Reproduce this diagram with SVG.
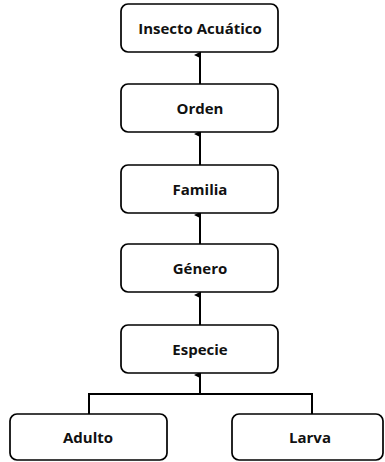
<svg xmlns="http://www.w3.org/2000/svg" width="385" height="462" viewBox="0 0 385 462">
<defs>
<marker id="ah" markerWidth="7" markerHeight="7" refX="3.5" refY="6" orient="auto-start-reverse" markerUnits="userSpaceOnUse" viewBox="0 0 7 7">
<path d="M0,7 L3.5,0 L7,7 Z" fill="#000"/>
</marker>
<style>
.b{fill:#fff;stroke:#000;stroke-width:1.7}
.t{font-family:"Open Sans","Liberation Sans",sans-serif;font-weight:bold;font-size:15px;text-anchor:middle;fill:#111}
.c{fill:none;stroke:#000;stroke-width:2}
</style>
</defs>
<rect width="385" height="462" fill="#fff"/>
<g id="connectors">
<line class="c" x1="200" y1="84" x2="200" y2="55" marker-end="url(#ah)"/>
<line class="c" x1="200" y1="165" x2="200" y2="134" marker-end="url(#ah)"/>
<line class="c" x1="200" y1="244" x2="200" y2="215" marker-end="url(#ah)"/>
<line class="c" x1="200" y1="325" x2="200" y2="295" marker-end="url(#ah)"/>
<polyline class="c" points="89,414 89,394 312,394 312,414"/>
<line class="c" x1="200" y1="394" x2="200" y2="375" marker-end="url(#ah)"/>
</g>
<g id="insecto"><rect class="b" x="121" y="4" width="157" height="48" rx="7"/><text class="t" x="200" y="34">Insecto Acuático</text></g>
<g id="orden"><rect class="b" x="121" y="84" width="157" height="48" rx="7"/><text class="t" x="200" y="114">Orden</text></g>
<g id="familia"><rect class="b" x="121" y="165" width="157" height="48" rx="7"/><text class="t" x="200" y="195">Familia</text></g>
<g id="genero"><rect class="b" x="121" y="244" width="157" height="48" rx="7"/><text class="t" x="200" y="274">Género</text></g>
<g id="especie"><rect class="b" x="121" y="325" width="157" height="48" rx="7"/><text class="t" x="200" y="355">Especie</text></g>
<g id="adulto"><rect class="b" x="10" y="414" width="157" height="46" rx="7"/><text class="t" x="88" y="443">Adulto</text></g>
<g id="larva"><rect class="b" x="232" y="414" width="151" height="46" rx="7"/><text class="t" x="310" y="443">Larva</text></g>
</svg>
